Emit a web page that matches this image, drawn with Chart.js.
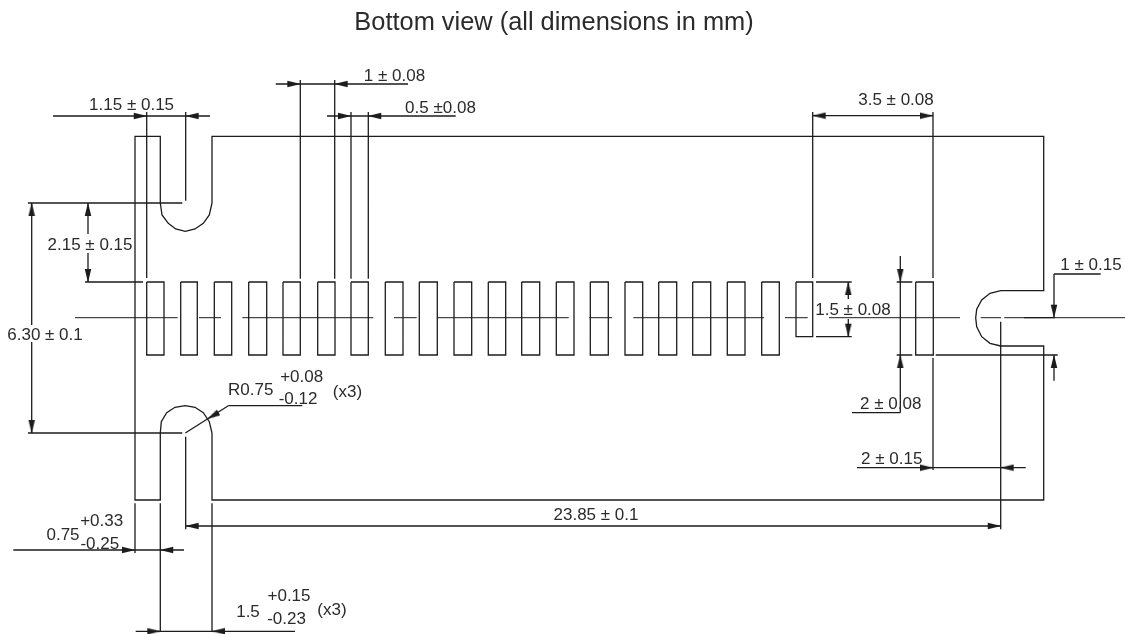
<!DOCTYPE html>
<html>
<head>
<meta charset="utf-8">
<title>Bottom view</title>
<script src="https://cdn.jsdelivr.net/npm/chart.js@4"></script>
<style>
  html, body { margin: 0; padding: 0; background: #ffffff; }
  canvas { display: block; }
</style>
</head>
<body>
<canvas id="drawing" width="1125" height="634"></canvas>
<script>
const titleText = "Bottom view (all dimensions in mm)";

// Contact pads
const padLeft = [146.7, 180.7, 214.3, 248.7, 283, 317.7, 351, 385.3, 419.3, 454, 488.3, 521.7, 556.3, 590.3, 625, 658.7, 692.7, 727.3, 761.7, 796, 915.7];
const padRight = [164, 197.3, 231.7, 266.7, 300.3, 335, 368.3, 403, 437.3, 471.7, 505.7, 539.7, 574, 608.3, 642.7, 676.7, 710.7, 745, 779.3, 812.7, 933.3];
const padTop = [282, 282, 282, 282, 282, 282, 282, 282, 282, 282, 282, 282, 282, 282, 282, 282, 282, 282, 282, 282, 282];
const padBottom = [355, 355, 355, 355, 355, 355, 355, 355, 355, 355, 355, 355, 355, 355, 355, 355, 355, 355, 355, 336.7, 355];

// Board outline, walked from the top left tab
const outlineX = [160.3, 160.3, 135, 135, 160.3, 160.3];
const outlineY = [203, 136.3, 136.3, 500, 500, 433];
const bottomSlotX = [160.3, 161.3, 166.7, 175, 185.3, 195, 203.3, 209.3, 212];
const bottomSlotY = [433, 421.7, 412.7, 407.3, 405.7, 407.3, 412.7, 421.7, 433];
const topSlotX = [160.3, 162, 168.3, 175.7, 185.3, 195, 203.3, 209.3, 212];
const topSlotY = [203, 215, 223.3, 229, 231.3, 229, 223.3, 215, 203];
const bodyX = [212, 212, 1043.7, 1043.7, 1000.7, 990, 981.7, 976.7, 975.7, 976.7, 981.7, 990, 1000.7, 1043.7, 1043.7, 212, 212];
const bodyY = [203, 136.3, 136.3, 290.7, 290.7, 293.3, 300, 309.3, 317.7, 326.7, 336.7, 343.3, 346, 346, 500, 500, 433];

// Centre line pieces on y = 317.7
const centreY = 317.7;
const centreFrom = [75, 199, 242.3, 394, 437.3, 589.3, 633.3, 785, 829, 980.7, 1004.3];
const centreTo = [177.7, 221, 373.3, 416.7, 568.7, 612, 764, 807.7, 960, 1001, 1125];

// Dimension lines: [y, x from, x to]
const horizontals = [
  [116, 53, 210], [84, 275.7, 408], [116, 327, 455.7], [115.7, 812.7, 933],
  [203, 28, 182.3], [433, 28, 182.3], [282, 85, 143],
  [405.7, 228.3, 302.3], [526, 185.7, 1000.7], [550, 13.3, 184], [631.3, 135.7, 295],
  [282, 816, 851.7], [336.7, 816, 851.7], [282, 896.7, 912.3], [355, 896.7, 912.3],
  [412.7, 852, 900.3], [355, 935.7, 1057.7], [467.7, 857, 1025.7], [274, 1054, 1100.7],
  [317.7, 1024, 1055]
];
// Dimension lines: [x, y from, y to]
const verticals = [
  [146.7, 112, 278], [185.7, 112, 200.7], [300.3, 80, 278.7], [334.7, 80, 278.7],
  [351, 112, 278.7], [368.3, 112, 278.7], [812.7, 112, 278], [933, 112, 278],
  [31.7, 203, 325], [31.7, 342, 433], [88, 203, 234], [88, 253, 282],
  [185.7, 436.7, 529.3], [1000.7, 321.7, 529.3], [135, 503.3, 553],
  [160.3, 503.3, 631.7], [212, 503.3, 631.7],
  [848.3, 282, 299], [848.3, 319, 336.7], [900.3, 256, 412.7],
  [933, 358, 470], [1054, 274, 317.7], [1054, 355, 380.7]
];
const leaderX = [185.3, 228.3];
const leaderY = [433, 405.7];

// Arrow tips by the way they point
const arrowsRight = [[146.7, 116], [300.3, 84], [351, 116], [933, 115.7], [135, 550], [160.3, 631.3], [1000.7, 526], [933, 467.7]];
const arrowsLeft = [[185.7, 116], [334.7, 84], [368.3, 116], [812.7, 115.7], [160.3, 550], [212, 631.3], [185.7, 526], [1000.7, 467.7]];
const arrowsUp = [[31.7, 203], [88, 203], [848.3, 282], [900.3, 355], [1054, 355]];
const arrowsDown = [[31.7, 433], [88, 282], [848.3, 336.7], [900.3, 282], [1054, 317.7]];
const arrowsLeader = [[207.3, 419]];

// Dimension texts, placed by the middle of their digits
const labelText = ["1.15 ± 0.15", "1 ± 0.08", "0.5 ±0.08", "3.5 ± 0.08", "2.15 ± 0.15", "6.30 ± 0.1", "R0.75", "+0.08", "-0.12", "(x3)", "0.75", "+0.33", "-0.25", "1.5", "+0.15", "-0.23", "(x3)", "23.85 ± 0.1", "1.5 ± 0.08", "2 ± 0.08", "2 ± 0.15", "1 ± 0.15"];
const labelX = [131.6, 394.5, 440.5, 896, 90, 45, 250.7, 301.7, 298, 347.5, 63, 101.7, 99.8, 248, 289, 286.5, 332, 596, 853, 890.7, 891.7, 1091];
const labelY = [104.3, 75, 107, 99, 244, 334, 389, 375.7, 398, 390.7, 534.3, 520, 543.3, 610.7, 595, 618.3, 608.7, 514, 309, 403, 458, 264];

const INK = "#1c1c1c";

function joinPoints(xs, ys) {
  return xs.map((x, i) => ({ x: x, y: ys[i] }));
}

function breakLines(pieces) {
  // a null point between pieces lifts the pen
  const points = [];
  pieces.forEach((piece) => {
    points.push(...piece, { x: null, y: null });
  });
  return points;
}

function lineSet(data, width) {
  return {
    data: data,
    showLine: true,
    spanGaps: false,
    borderColor: INK,
    borderWidth: width || 1.3,
    pointRadius: 0,
    fill: false,
    tension: 0,
  };
}

// Long thin arrow head, with its tip in the middle of the image
function arrowImage() {
  const c = document.createElement("canvas");
  c.width = 28;
  c.height = 8;
  const g = c.getContext("2d");
  g.fillStyle = INK;
  g.beginPath();
  g.moveTo(14.5, 4);
  g.lineTo(1, 0.7);
  g.lineTo(1, 7.3);
  g.closePath();
  g.fill();
  return c;
}

const arrowHead = arrowImage();

function arrowSet(tips, rotation) {
  return {
    data: tips.map((t) => ({ x: t[0], y: t[1] })),
    showLine: false,
    pointStyle: arrowHead,
    pointRadius: 5,
    pointRotation: rotation,
  };
}

const labelPlugin = {
  id: "dimensionLabels",
  afterDatasetsDraw(chart) {
    const ctx = chart.ctx;
    const xs = chart.scales.x;
    const ys = chart.scales.y;
    ctx.save();
    ctx.textAlign = "center";
    ctx.textBaseline = "alphabetic";
    ctx.fillStyle = "#2b2b2b";
    ctx.font = '17px "Liberation Sans"';
    labelText.forEach((text, i) => {
      ctx.fillText(text, xs.getPixelForValue(labelX[i]), ys.getPixelForValue(labelY[i]) + 6);
    });
    ctx.font = '25.4px "Liberation Sans"';
    ctx.fillText(titleText, xs.getPixelForValue(554), ys.getPixelForValue(30));
    ctx.restore();
  },
};

const padPieces = padLeft.map((left, i) => [
  { x: left, y: padTop[i] },
  { x: padRight[i], y: padTop[i] },
  { x: padRight[i], y: padBottom[i] },
  { x: left, y: padBottom[i] },
  { x: left, y: padTop[i] },
]);
const centrePieces = centreFrom.map((from, i) => [
  { x: from, y: centreY },
  { x: centreTo[i], y: centreY },
]);
const dimensionPieces = horizontals
  .map((h) => [{ x: h[1], y: h[0] }, { x: h[2], y: h[0] }])
  .concat(verticals.map((v) => [{ x: v[0], y: v[1] }, { x: v[0], y: v[2] }]));

new Chart(document.getElementById("drawing").getContext("2d"), {
  type: "scatter",
  data: {
    datasets: [
      lineSet(breakLines(padPieces)),
      lineSet(joinPoints(outlineX, outlineY)),
      lineSet(joinPoints(bottomSlotX, bottomSlotY)),
      lineSet(joinPoints(topSlotX, topSlotY)),
      lineSet(joinPoints(bodyX, bodyY)),
      lineSet(breakLines(centrePieces), 1),
      lineSet(breakLines(dimensionPieces)),
      lineSet(joinPoints(leaderX, leaderY)),
      arrowSet(arrowsRight, 0),
      arrowSet(arrowsDown, 90),
      arrowSet(arrowsLeft, 180),
      arrowSet(arrowsUp, 270),
      arrowSet(arrowsLeader, 150),
    ],
  },
  options: {
    responsive: false,
    animation: false,
    layout: { padding: 0, autoPadding: false },
    plugins: { legend: { display: false }, tooltip: { enabled: false } },
    scales: {
      x: { type: "linear", display: false, min: 0, max: 1125 },
      y: { type: "linear", display: false, min: 0, max: 634, reverse: true },
    },
  },
  plugins: [labelPlugin],
});
</script>
</body>
</html>
